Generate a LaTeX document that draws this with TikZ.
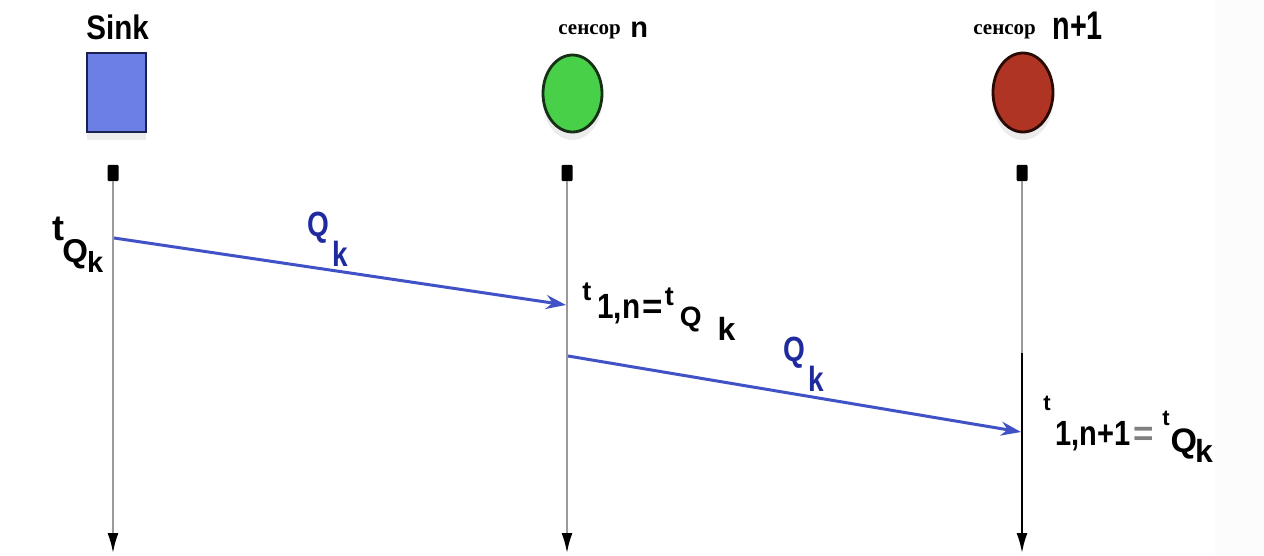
\documentclass[tikz,border=0pt]{standalone}
\usepackage{fontspec}
\setmainfont{Liberation Sans}
\newfontfamily\lab{Liberation Sans Bold}
\newfontfamily\ser{Liberation Serif Bold}
\usetikzlibrary{arrows.meta,shadows,shapes.geometric}
\newcommand{\fz}[1]{\fontsize{#1pt}{#1pt}\selectfont}
\definecolor{sinkblue}{HTML}{6B7FE6}
\definecolor{sinkedge}{HTML}{1A2050}
\definecolor{sgreen}{HTML}{48D048}
\definecolor{gedge}{HTML}{163016}
\definecolor{sred}{HTML}{B03424}
\definecolor{redge}{HTML}{2A0A05}
\definecolor{lifegray}{HTML}{9A9A9A}
\definecolor{msgblue}{HTML}{4052C6}
\definecolor{txtblue}{HTML}{1E2A9E}
\tikzset{
  lbl/.style={inner sep=0pt, anchor=base west, font=\lab},
  toplbl/.style={inner sep=0pt, anchor=base west},
  shad/.style={drop shadow={shadow xshift=0pt, shadow yshift=-4pt, opacity=0.15, fill=gray}},
  marker/.style={fill=black, draw=none, minimum width=5.5pt, minimum height=8pt, inner sep=0pt, rounded corners=0.5pt},
  life/.style={draw=lifegray, line width=1pt},
  lifeend/.style={line width=1pt, -{Latex[length=10pt,width=5.5pt,color=black]}},
  msg/.style={draw=msgblue, line width=1.5pt, -{Stealth[length=10pt,width=7pt]}},
  qlbl/.style={inner sep=0pt, anchor=base west, font=\lab, text=txtblue}
}
\begin{document}
\begin{tikzpicture}[x=0.5pt,y=-0.5pt]
\useasboundingbox (0,0) rectangle (1264,556);
\fill[white] (0,0) rectangle (1264,556);
\fill[gray!2] (1215,0) rectangle (1264,556);

% headers
\node[lbl] (sinkt) at (86,40) {\fz{17}\scalebox{0.87}[1]{Sink}};
\node[toplbl] (sn1) at (558,35) {\ser\fz{10.5}сенсор};
\node[lbl] (sn2) at (630,38) {\fz{14.5}n};
\node[toplbl] (sm1) at (973,35) {\ser\fz{10.5}сенсор};
\node[lbl] (sm2) at (1052,40) {\fz{20}\scalebox{0.72}[1]{n+1}};

% actors
\node[shad, draw=sinkedge, line width=1.3pt, fill=sinkblue, minimum width=29.5pt, minimum height=39.5pt, inner sep=0pt] (sink) at (116.5,92.5) {};
\node[shad, ellipse, draw=gedge, line width=1.4pt, fill=sgreen, minimum width=29.5pt, minimum height=38.5pt, inner sep=0pt] (sen) at (572.5,93.5) {};
\node[shad, ellipse, draw=redge, line width=1.4pt, fill=sred, minimum width=30pt, minimum height=39.5pt, inner sep=0pt] (senp) at (1023,92.5) {};

% markers
\node[marker] (m1) at (113,173) {};
\node[marker] (m2) at (567,173) {};
\node[marker] (m3) at (1022,173) {};

% lifeline ends
\coordinate (e1) at (113,553);
\coordinate (e2) at (567,553);
\coordinate (e3) at (1022,553);
\coordinate (k3) at (1022,353);

\draw[life, lifeend] (m1.south) -- (e1);
\draw[life, lifeend] (m2.south) -- (e2);
\draw[life] (m3.south) -- (k3);
\draw[lifeend, draw=black] (k3) -- (e3);

% messages
\coordinate (a1s) at (114,238);
\coordinate (a1e) at (566,305);
\coordinate (a2s) at (568,356);
\coordinate (a2e) at (1021,432);
\draw[msg] (a1s) -- (a1e);
\draw[msg] (a2s) -- (a2e);

\node[qlbl] (q1) at (307,236) {\fz{17.5}\scalebox{0.8}[1]{Q}\hspace{1.5pt}\raisebox{-15pt}{\scalebox{0.8}[1]{k}}};
\node[qlbl] (q2) at (783,361) {\fz{17.5}\scalebox{0.8}[1]{Q}\hspace{1.5pt}\raisebox{-15pt}{\scalebox{0.8}[1]{k}}};

% time labels
\node[lbl] (tq) at (52,240) {\fz{18}t\hspace{-1pt}\raisebox{-11pt}{\fz{16.5}Q\hspace{-0.5pt}\raisebox{-5.5pt}{\fz{14.5}k}}};

\node[lbl] (t1n) at (582,318) {\raisebox{9pt}{\fz{13.5}t}\hspace{3pt}\scalebox{0.85}[1]{\fz{17.5}1,n}\hspace{1pt}{\fz{17.5}=}\hspace{1pt}\raisebox{6.5pt}{\fz{13.5}t}\hspace{3pt}\raisebox{-4pt}{\fz{14}Q}\hspace{8pt}\raisebox{-11pt}{\fz{16}k}};

\node[lbl] (t1np) at (1043,445) {\raisebox{17.5pt}{\fz{11}t}\hspace{2.5pt}\scalebox{0.83}[1]{\fz{17.5}1,n+1}\hspace{1.5pt}{\fz{17.5}\textcolor{gray}{=}}\hspace{4pt}\raisebox{10pt}{\fz{11}t}\hspace{0.5pt}\raisebox{-3.5pt}{\fz{17}Q}\hspace{-1pt}\raisebox{-8.5pt}{\fz{16}k}};
\end{tikzpicture}
\end{document}
